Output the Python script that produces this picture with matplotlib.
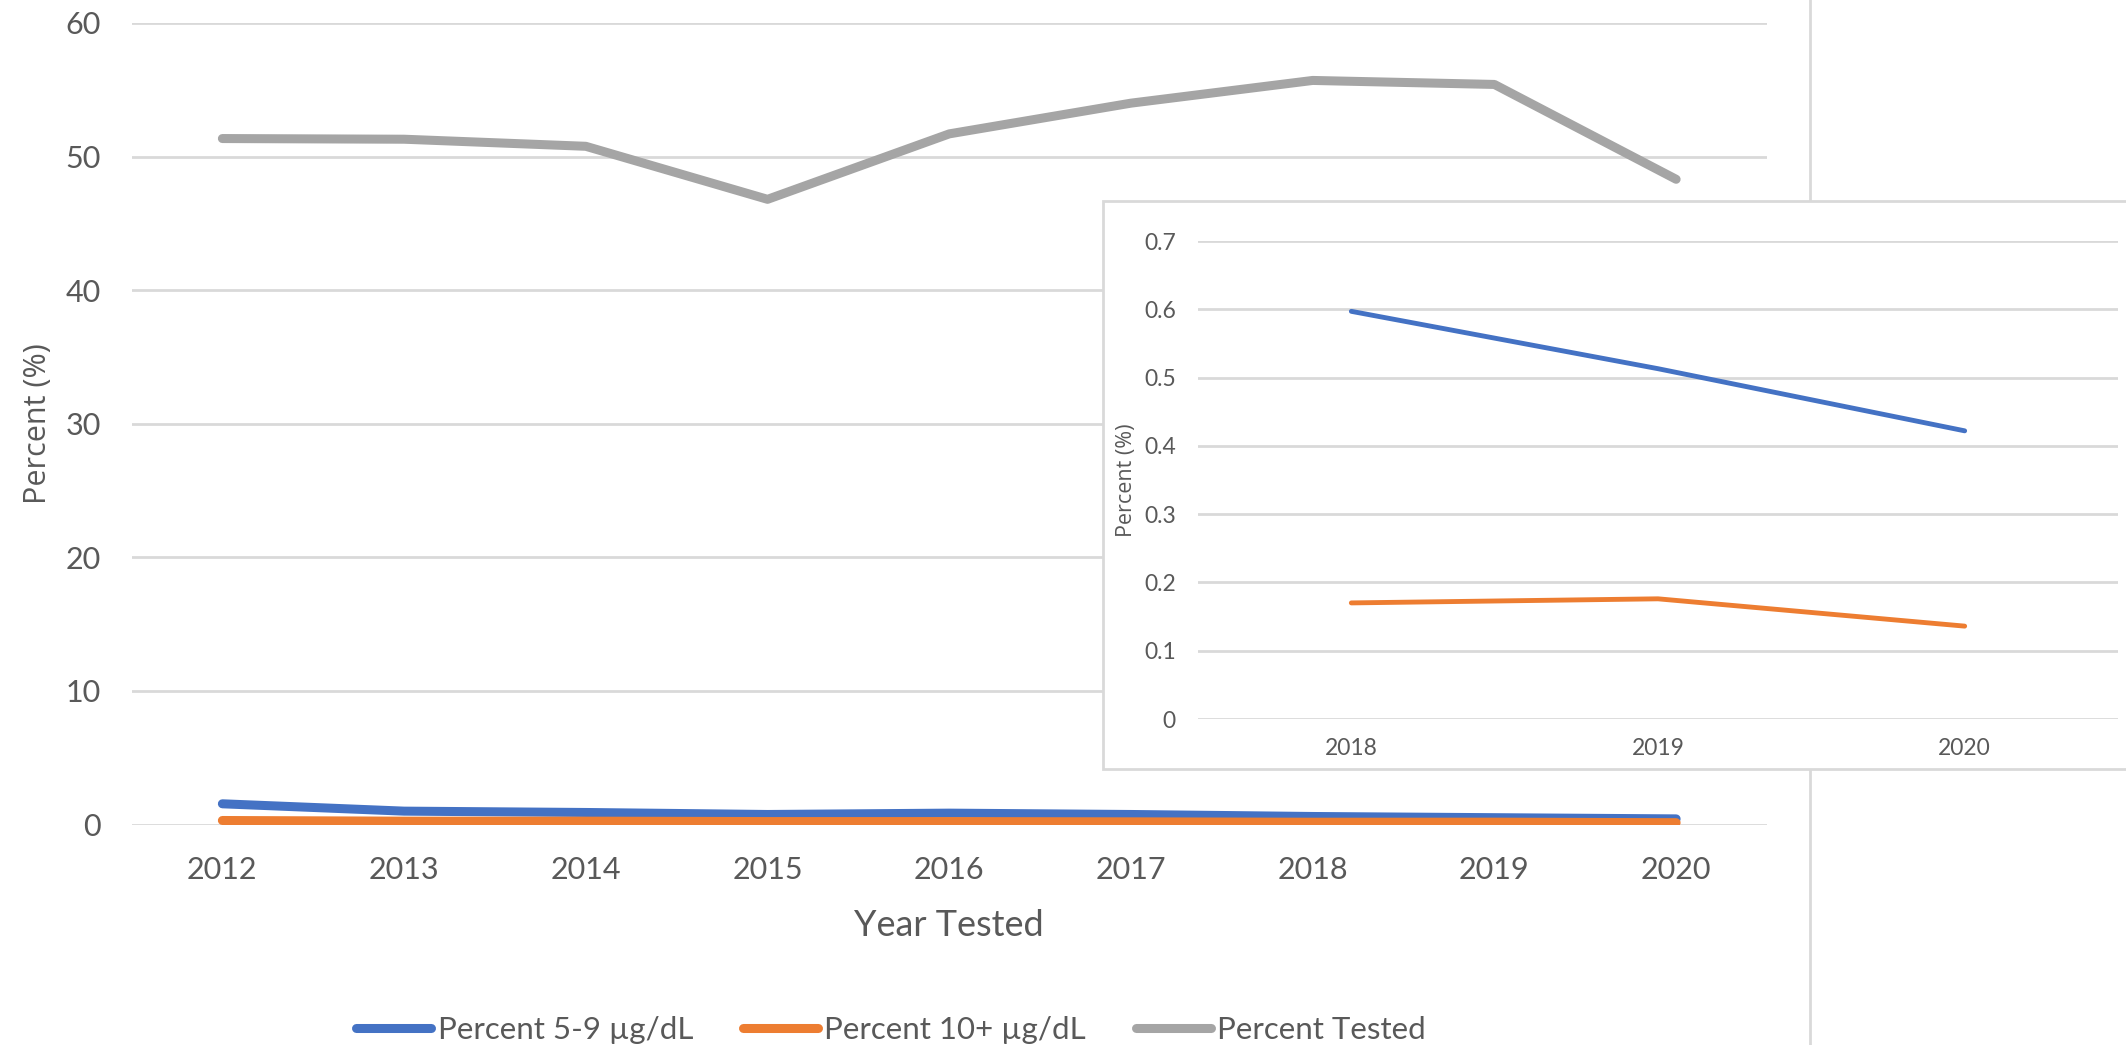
import numpy as np
import matplotlib.pyplot as plt
from matplotlib.lines import Line2D
from matplotlib.patches import Rectangle

plt.rcParams['font.family'] = ['Lato', 'DejaVu Sans']

# Data
years = [2012, 2013, 2014, 2015, 2016, 2017, 2018, 2019, 2020]
pct_5_9 = [1.55, 1.0, 0.9, 0.75, 0.85, 0.75, 0.6, 0.51, 0.42]
pct_10_plus = [0.3, 0.25, 0.25, 0.22, 0.22, 0.2, 0.17, 0.175, 0.136]
pct_tested = [51.35, 51.3, 50.77, 46.8, 51.7, 54.0, 55.7, 55.4, 48.3]

inset_years = [2018, 2019, 2020]
inset_5_9 = [0.597, 0.513, 0.422]
inset_10_plus = [0.170, 0.176, 0.136]

labels = ['Percent 5-9 µg/dL', 'Percent 10+ µg/dL', 'Percent Tested']
colors = ['#4472C4', '#ED7D31', '#A5A5A5']

W, H = 2126, 1045
txt = '#595959'
grid = '#D9D9D9'

fig = plt.figure(figsize=(W / 100, H / 100), dpi=100)

# main chart
ax = fig.add_axes([131.5 / W, 1 - 824.5 / H, (1767 - 131.5) / W, (824.5 - 23) / H])
series = [pct_5_9, pct_10_plus, pct_tested]
for vals, c, lab in zip(series, colors, labels):
    ax.plot(years, vals, color=c, lw=6.5, solid_capstyle='round', label=lab, zorder=3)

ax.set_xlim(2011.5, 2020.5)
ax.set_ylim(0, 60)
ax.set_xticks(years)
ax.set_yticks(np.arange(0, 61, 10))
ax.yaxis.grid(True, color=grid, lw=2)
ax.set_axisbelow(True)
for s in ax.spines.values():
    s.set_visible(False)
ax.tick_params(length=0, labelsize=22, colors=txt)
ax.tick_params(axis='x', pad=23)
ax.tick_params(axis='y', pad=22)
ax.set_xlabel('Year Tested', fontsize=26, color=txt, va='center')
ax.xaxis.set_label_coords(0.5, -0.1266)
ax.set_ylabel('Percent (%)', fontsize=22, color=txt, family='Open Sans', va='center')
ax.yaxis.set_label_coords(-0.057, 0.5)

# divider line on the right
fig.add_artist(Line2D([1810 / W, 1810 / W], [0, 1], color=grid, lw=2,
                      transform=fig.transFigure, zorder=1))

# inset box
fig.add_artist(Rectangle((1103 / W, 1 - 769 / H), (W - 1103) / W + 0.01, (769 - 201) / H,
                         transform=fig.transFigure, facecolor='white',
                         edgecolor=grid, lw=2, zorder=2))

ins = fig.add_axes([1198 / W, 1 - 719 / H, (2118 - 1198) / W, (719 - 241) / H], zorder=3)
ins.patch.set_alpha(0)
ins.plot(inset_years, inset_5_9, color=colors[0], lw=3.5, solid_capstyle='round')
ins.plot(inset_years, inset_10_plus, color=colors[1], lw=3.5, solid_capstyle='round')
ins.set_xlim(2017.5, 2020.5)
ins.set_ylim(0, 0.7)
ins.set_xticks(inset_years)
ins.set_yticks(np.arange(0, 0.71, 0.1))
ins.set_yticklabels(['0', '0.1', '0.2', '0.3', '0.4', '0.5', '0.6', '0.7'])
ins.yaxis.grid(True, color=grid, lw=2)
ins.set_axisbelow(True)
for s in ins.spines.values():
    s.set_visible(False)
ins.tick_params(length=0, labelsize=16.5, colors=txt)
ins.tick_params(axis='x', pad=14)
ins.tick_params(axis='y', pad=16)
ins.set_ylabel('Percent (%)', fontsize=15.5, color=txt, family='Open Sans', va='center')
ins.yaxis.set_label_coords(-0.078, 0.5)

handles = [Line2D([], [], color=c, lw=6.5, solid_capstyle='round') for c in colors]
fig.legend(handles, labels, loc='center', bbox_to_anchor=(891 / W, 1 - 1030 / H), ncol=3,
           frameon=False, fontsize=22.5, handlelength=2.4, handletextpad=0.2,
           columnspacing=1.6, labelcolor=txt)

fig.savefig('out.png', dpi=100)
